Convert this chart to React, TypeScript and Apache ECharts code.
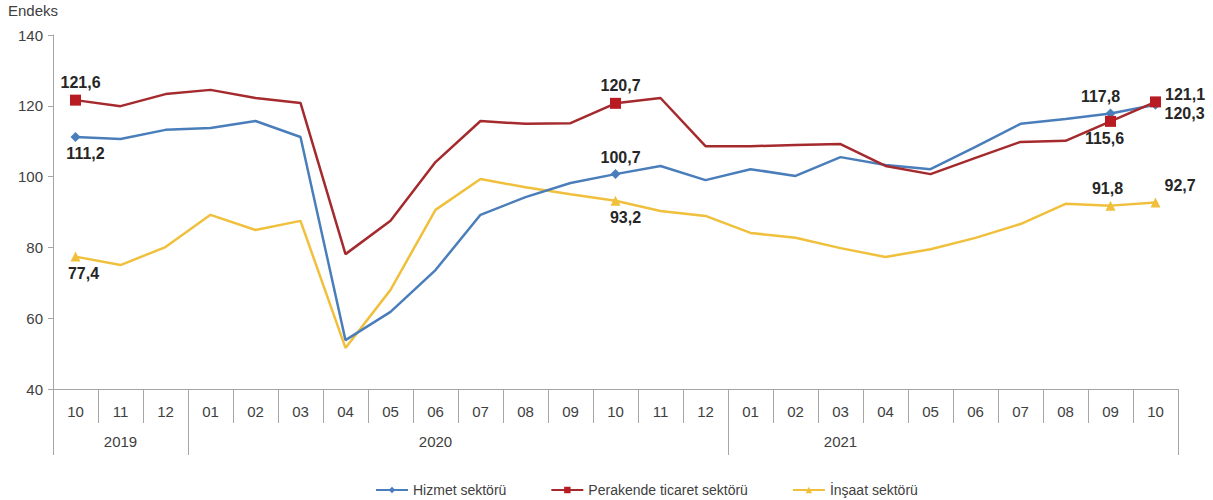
import React, { useEffect, useRef } from "react";
import * as echarts from "echarts";

const months = ["10", "11", "12", "01", "02", "03", "04", "05", "06", "07", "08", "09", "10", "11", "12", "01", "02", "03", "04", "05", "06", "07", "08", "09", "10"];
const yearLabelAt: Record<number, string> = { 1: "2019", 8: "2020", 17: "2021" };
const yearStartIdx = [0, 3, 15];

const hizmet = [111.2, 110.6, 113.2, 113.7, 115.7, 111.2, 53.8, 61.8, 73.6, 89.2, 94.2, 98.2, 100.7, 103.0, 99.0, 102.1, 100.2, 105.5, 103.3, 102.1, 108.4, 114.9, 116.3, 117.8, 120.3];
const perakende = [121.6, 119.9, 123.3, 124.5, 122.2, 120.8, 78.1, 87.5, 104.1, 115.7, 114.9, 115.1, 120.7, 122.2, 108.6, 108.6, 108.9, 109.2, 103.0, 100.7, 105.3, 109.8, 110.1, 115.6, 121.1];
const insaat = [77.4, 75.0, 80.1, 89.2, 84.9, 87.5, 51.6, 68.0, 90.6, 99.3, 97.0, 95.0, 93.2, 90.3, 88.9, 84.1, 82.7, 79.8, 77.3, 79.5, 82.7, 86.6, 92.3, 91.8, 92.7];

const seriesNames = ["Hizmet sektörü", "Perakende ticaret sektörü", "İnşaat sektörü"];
const markedIdx = [0, 12, 23, 24];

const fmt = (v: number) => v.toFixed(1).replace(".", ",");

type LabelCfg = { position: string; offset: [number, number] };

const hizmetLabels: Record<number, LabelCfg> = {
  0: { position: "bottom", offset: [10, 0] },
  12: { position: "top", offset: [5, 0] },
  23: { position: "top", offset: [-10, 0] },
  24: { position: "right", offset: [0, 9] },
};
const perakendeLabels: Record<number, LabelCfg> = {
  0: { position: "top", offset: [5, 0] },
  12: { position: "top", offset: [5, 0] },
  23: { position: "bottom", offset: [-6, 0] },
  24: { position: "right", offset: [0, -7] },
};
const insaatLabels: Record<number, LabelCfg> = {
  0: { position: "bottom", offset: [8, 0] },
  12: { position: "bottom", offset: [10, 0] },
  23: { position: "top", offset: [-3, 0] },
  24: { position: "right", offset: [0, -17] },
};

function buildData(values: number[], labels: Record<number, LabelCfg>) {
  return values.map((v, i) => {
    const l = labels[i];
    if (!l) return v;
    return {
      value: v,
      label: {
        show: true,
        position: l.position,
        offset: l.offset,
        distance: 4,
        formatter: () => fmt(v),
        fontSize: 16,
        fontWeight: "bold",
        color: "#262626",
        fontFamily: "Liberation Sans, Arial, sans-serif",
      },
    };
  });
}

export default function App() {
  const ref = useRef<HTMLDivElement>(null);
  useEffect(() => {
    if (!ref.current) return;
    const chart = echarts.init(ref.current, null, { renderer: "svg" });
    const font = "Liberation Sans, Arial, sans-serif";
    const sizeFn = (size: number) => (_v: any, p: any) => (markedIdx.includes(p.dataIndex) ? size : 0);
    chart.setOption({
      animation: false,
      backgroundColor: "#ffffff",
      textStyle: { fontFamily: font },
      title: {
        text: "Endeks",
        left: 3,
        top: -2,
        textStyle: { fontSize: 15, fontWeight: "normal", color: "#404040", fontFamily: font },
      },
      legend: {
        left: 370,
        top: 478,
        itemWidth: 32,
        itemHeight: 8,
        itemGap: 44,
        textStyle: { fontSize: 14, color: "#404040", fontFamily: font },
        data: seriesNames,
      },
      grid: { left: 53, right: 35, top: 35, bottom: 111, containLabel: false },
      xAxis: [
        {
          type: "category",
          data: months,
          position: "bottom",
          boundaryGap: true,
          axisLine: { show: true, lineStyle: { color: "#a6a6a6", width: 1 } },
          axisTick: { show: true, interval: 0, length: 34, lineStyle: { color: "#a6a6a6" } },
          axisLabel: { interval: 0, margin: 15, fontSize: 15, color: "#404040", fontFamily: font },
        },
        {
          type: "category",
          data: months,
          position: "bottom",
          offset: 0,
          boundaryGap: true,
          axisLine: { show: false },
          axisTick: {
            show: true,
            interval: (index: number) => yearStartIdx.includes(index),
            length: 66,
            lineStyle: { color: "#a6a6a6" },
          },
          axisLabel: {
            interval: 0,
            margin: 45,
            fontSize: 15,
            color: "#404040",
            fontFamily: font,
            formatter: (_v: string, index: number) => yearLabelAt[index] ?? "",
          },
        },
      ],
      yAxis: {
        type: "value",
        min: 40,
        max: 140,
        interval: 20,
        axisLine: { show: true, lineStyle: { color: "#a6a6a6" } },
        axisTick: { show: true, length: 5, lineStyle: { color: "#a6a6a6" } },
        axisLabel: { fontSize: 15, color: "#404040", margin: 10, fontFamily: font },
        splitLine: { show: false },
      },
      series: [
        {
          name: seriesNames[0],
          type: "line",
          data: buildData(hizmet, hizmetLabels),
          color: "#4a7ebb",
          lineStyle: { width: 2.5, color: "#4a7ebb" },
          symbol: "diamond",
          symbolSize: sizeFn(10),
          showAllSymbol: true,
          z: 3,
        },
        {
          name: seriesNames[1],
          type: "line",
          data: buildData(perakende, perakendeLabels),
          color: "#b81c22",
          lineStyle: { width: 2.5, color: "#a52a2e" },
          symbol: "rect",
          symbolSize: sizeFn(11),
          showAllSymbol: true,
          z: 4,
        },
        {
          name: seriesNames[2],
          type: "line",
          data: buildData(insaat, insaatLabels),
          color: "#f0c03c",
          lineStyle: { width: 2.5, color: "#f0c03c" },
          symbol: "triangle",
          symbolSize: sizeFn(10),
          showAllSymbol: true,
          z: 2,
        },
      ],
    });
    return () => chart.dispose();
  }, []);
  return <div ref={ref} style={{ width: 1213, height: 500, position: "absolute", left: 0, top: 0 }} />;
}
